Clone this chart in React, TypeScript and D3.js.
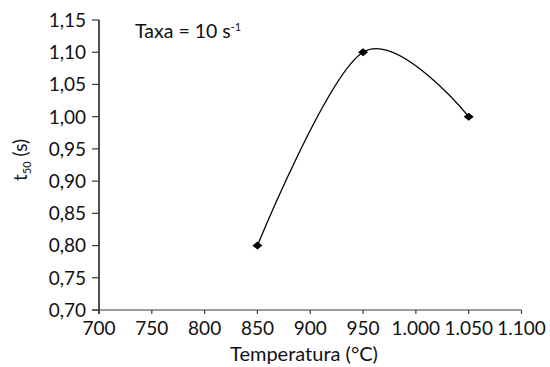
import React from "react";
import * as d3 from "d3";

const temperatures = [850, 950, 1050];
const t50Values = [0.8, 1.1, 1.0];
const xTicks = [700, 750, 800, 850, 900, 950, 1000, 1050, 1100];
const yTicks = [0.7, 0.75, 0.8, 0.85, 0.9, 0.95, 1.0, 1.05, 1.1, 1.15];

const W = 550;
const H = 367;
const FONT = "Lato, 'Open Sans', sans-serif";

const locale = d3.formatLocale({
  decimal: ",",
  thousands: ".",
  grouping: [3],
  currency: ["", ""],
});
const fmtX = locale.format(",d");
const fmtY = locale.format(".2f");

export default function App() {
  const x = d3.scaleLinear().domain([700, 1100]).range([99, 521.5]);
  const y = d3.scaleLinear().domain([0.7, 1.15]).range([310, 20]);

  const pts: [number, number][] = temperatures.map((t, i) => [x(t), y(t50Values[i])]);
  const line = d3.line().curve(d3.curveCardinal.tension(0))(pts) || "";

  const axisColor = "#3a3a3a";

  return (
    <svg
      width={W}
      height={H}
      style={{ position: "fixed", left: 0, top: 0, background: "#fff" }}
      fontFamily={FONT}
    >
      <rect width={W} height={H} fill="#fff" />
      {/* Y axis */}
      <line x1={x(700)} x2={x(700)} y1={y(1.15)} y2={y(0.7) + 4} stroke={axisColor} strokeWidth={1.8} />
      {yTicks.map((v) => (
        <g key={v}>
          <line x1={x(700) - 7} x2={x(700)} y1={y(v)} y2={y(v)} stroke={axisColor} strokeWidth={1.2} />
          <text x={86} y={y(v)} dy="0.36em" textAnchor="end" fontSize={19} fill="#111">
            {fmtY(v)}
          </text>
        </g>
      ))}
      {/* X axis */}
      <line x1={x(700) - 7} x2={x(1100)} y1={y(0.7)} y2={y(0.7)} stroke={axisColor} strokeWidth={1.2} />
      {xTicks.map((v) => (
        <g key={v}>
          <line x1={x(v)} x2={x(v)} y1={y(0.7)} y2={y(0.7) + 4} stroke={axisColor} strokeWidth={1.2} />
          <text x={x(v)} y={335} textAnchor="middle" fontSize={19} fill="#111">
            {fmtX(v)}
          </text>
        </g>
      ))}
      {/* Axis titles */}
      <text x={304} y={361} textAnchor="middle" fontSize={20} fill="#111">
        Temperatura (°C)
      </text>
      <text transform="translate(27,160) rotate(-90)" textAnchor="middle" fontSize={19} fill="#111">
        t<tspan fontSize={11} dy={4}>50</tspan>
        <tspan dy={-4}> (s)</tspan>
      </text>
      {/* Annotation */}
      <text x={135} y={38} fontSize={19.5} fill="#111">
        Taxa = 10 s<tspan fontSize={11} dy={-7}>-1</tspan>
      </text>
      {/* Curve */}
      <path d={line} fill="none" stroke="#000" strokeWidth={1.3} />
      {pts.map(([px, py], i) => (
        <path
          key={i}
          d={`M${px - 5},${py} L${px},${py - 4} L${px + 5},${py} L${px},${py + 4} Z`}
          fill="#000"
        />
      ))}
    </svg>
  );
}
